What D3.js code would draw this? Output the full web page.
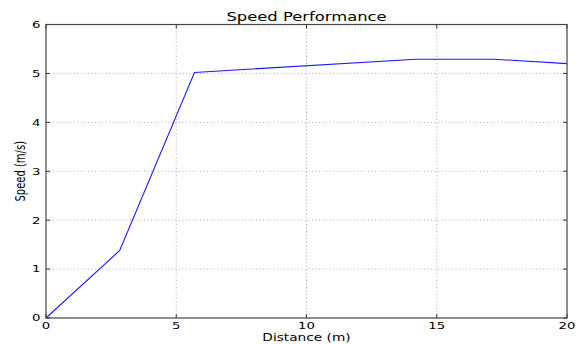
<!DOCTYPE html>
<html><head><meta charset="utf-8">
<script src="https://cdn.jsdelivr.net/npm/d3@7"></script>
<style>body{margin:0;background:#fff}svg{display:block}</style>
</head><body>
<svg id="c" width="577" height="344"></svg>
<script>
const distance = [0, 2.83, 5.7, 14.2, 17.2, 20];
const speed = [0, 1.38, 5.02, 5.29, 5.29, 5.2];
const xTicks = [0, 5, 10, 15, 20];
const yTicks = [0, 1, 2, 3, 4, 5, 6];
const title = "Speed Performance";
const xLabel = "Distance (m)";
const yLabel = "Speed (m/s)";

const svg = d3.select("#c");
const L = 46, R = 567, T = 24.5, B = 318;
const x = d3.scaleLinear().domain([0, 20]).range([L, R]);
const y = d3.scaleLinear().domain([0, 6]).range([B, T]);
const SX = 1.4;
const font = "DejaVu Sans, sans-serif";

function txt(px, py, s, size, anchor, rot) {
  const g = svg.append("g").attr("transform", `translate(${px},${py}) scale(${SX},1)` + (rot ? ` rotate(${rot})` : ""));
  return g.append("text").text(s).attr("font-family", font).attr("font-size", size)
    .attr("text-anchor", anchor).attr("fill", "#000");
}

// grid
const grid = svg.append("g").attr("stroke", "#999").attr("stroke-width", 0.8).attr("stroke-dasharray", "1,2.5");
grid.selectAll(".gx").data(xTicks.slice(1, -1)).join("line")
  .attr("x1", d => x(d)).attr("x2", d => x(d)).attr("y1", T).attr("y2", B);
grid.selectAll(".gy").data(yTicks.slice(1, -1)).join("line")
  .attr("y1", d => y(d)).attr("y2", d => y(d)).attr("x1", L).attr("x2", R);

// line
const line = d3.line().x((d, i) => x(distance[i])).y(d => y(d));
svg.append("path").datum(speed).attr("d", line).attr("fill", "none")
  .attr("stroke", "#1a1aff").attr("stroke-width", 1.1);

// axes with inward ticks
const tk = 4;
const ax = svg.append("g").attr("stroke", "#333").attr("stroke-width", 1);
ax.selectAll(".tb").data(xTicks).join("line").attr("x1", d => x(d)).attr("x2", d => x(d)).attr("y1", B).attr("y2", B - tk);
ax.selectAll(".tt").data(xTicks).join("line").attr("x1", d => x(d)).attr("x2", d => x(d)).attr("y1", T).attr("y2", T + tk);
ax.selectAll(".tl").data(yTicks).join("line").attr("y1", d => y(d)).attr("y2", d => y(d)).attr("x1", L).attr("x2", L + tk);
ax.selectAll(".tr").data(yTicks).join("line").attr("y1", d => y(d)).attr("y2", d => y(d)).attr("x1", R).attr("x2", R - tk);
svg.append("rect").attr("x", L).attr("y", T).attr("width", R - L).attr("height", B - T)
  .attr("fill", "none").attr("stroke", "#444").attr("stroke-width", 1.2);

// tick labels
xTicks.forEach(d => txt(x(d), 329, d, 9.5, "middle"));
yTicks.forEach(d => txt(40.5, y(d) + 3.4, d, 9.5, "end"));

txt((L + R) / 2, 20.6, title, 11.7, "middle");
txt((L + R) / 2, 340.5, xLabel, 9.8, "middle");
txt(24.5, (T + B) / 2, yLabel, 10, "middle", -90);
</script>
</body></html>
